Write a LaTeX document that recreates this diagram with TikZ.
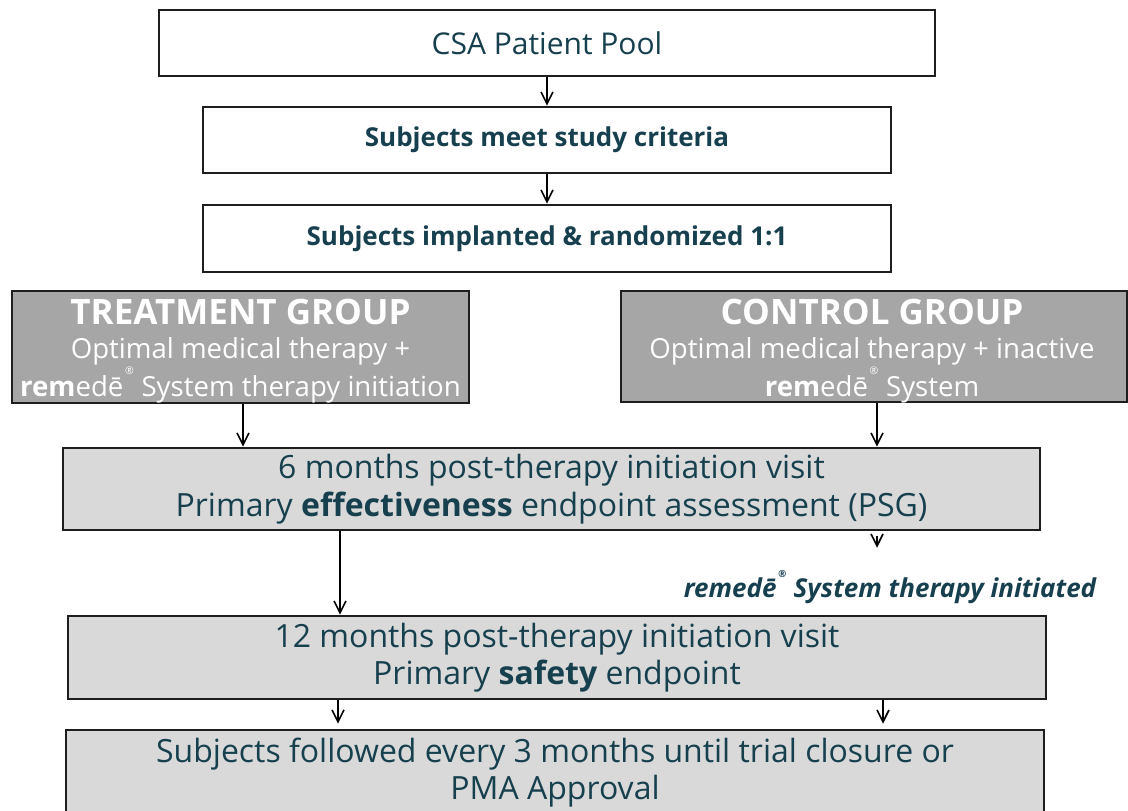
\documentclass[tikz,border=0pt]{standalone}
\usepackage{fontspec}
\setmainfont{Open Sans}
\usetikzlibrary{arrows.meta}

\definecolor{ink}{HTML}{17404E}
\definecolor{edge}{HTML}{1E1E1E}
\definecolor{groupfill}{HTML}{A6A6A6}
\definecolor{stagefill}{HTML}{D9D9D9}

% registered mark set small and high after the brand name
\newcommand\regmark{\kern0.06em\raisebox{0.78em}{\scalebox{0.38}{®}}\kern0.28em}
\newcommand\remede{\textbf{rem}edē\regmark}

\tikzset{
  box/.style={draw=edge, line width=1.3pt, inner sep=0pt, align=center, text=ink},
  plainbox/.style={box, fill=white},
  groupbox/.style={box, fill=groupfill, text=white},
  stagebox/.style={box, fill=stagefill},
  arr/.style={draw=black, line width=0.8pt, -{Straight Barb[length=6pt,width=6pt]}},
}

\begin{document}
\begin{tikzpicture}[x=0.5pt, y=-0.5pt]
\useasboundingbox (0,0) rectangle (1128,810);

% enrolment steps
\node[plainbox, minimum width=388pt, minimum height=33pt, font=\fontsize{15}{18}\selectfont]
  (pool) at (547,43) {CSA Patient Pool};
\node[plainbox, minimum width=344pt, minimum height=33pt, font=\fontsize{13}{16}\selectfont\bfseries]
  (crit) at (547,140) {Subjects meet study criteria};
\node[plainbox, minimum width=344pt, minimum height=33.5pt, font=\fontsize{13}{16}\selectfont\bfseries]
  (rand) at (547,238.5) {Subjects implanted \& randomized 1:1};

% study arms
\node[groupbox, minimum width=228.5pt, minimum height=56pt] (treat) at (240.5,347) {};
\node[text=white, inner sep=0pt, align=center, font=\fontsize{13.8}{16.8}\selectfont]
  (treattext) at (240.5,351) {{\fontsize{17.5}{20}\selectfont\bfseries TREATMENT GROUP}\\
  Optimal medical therapy +\\ \remede System therapy initiation};
\node[groupbox, minimum width=253pt, minimum height=55.5pt] (ctrl) at (874,346.5) {};
\node[text=white, inner sep=0pt, align=center, font=\fontsize{13.8}{16.8}\selectfont]
  (ctrltext) at (872,351) {{\fontsize{17.5}{20}\selectfont\bfseries CONTROL GROUP}\\
  Optimal medical therapy + inactive\\ \remede System};

% follow-up visits
\node[stagebox, minimum width=488.5pt, minimum height=41pt, font=\fontsize{16}{19}\selectfont]
  (six) at (551.5,489) {6 months post-therapy initiation visit\\
  Primary \textbf{effectiveness} endpoint assessment (PSG)};
\node[text=ink, inner sep=0pt, font=\fontsize{13}{16}\selectfont\bfseries\itshape]
  (init) at (890,587) {remedē\regmark System therapy initiated};
\node[stagebox, minimum width=489pt, minimum height=41.5pt, font=\fontsize{16}{18.5}\selectfont]
  (twelve) at (557,657.5) {12 months post-therapy initiation visit\\
  Primary \textbf{safety} endpoint};
\node[stagebox, minimum width=489pt, minimum height=42.5pt, font=\fontsize{16}{18.5}\selectfont]
  (follow) at (555,772.5) {Subjects followed every 3 months until trial closure or\\ PMA Approval};

% connectors
\draw[arr] (pool.south) -- (crit.north);
\draw[arr] (crit.south) -- (rand.north);
\draw[arr] (243,0 |- treat.south) -- (243,0 |- six.north);
\draw[arr] (877,0 |- ctrl.south) -- (877,0 |- six.north);
\draw[arr] (340,0 |- six.south) -- (340,0 |- twelve.north);
\draw[arr, shorten <=2.5pt] (877,0 |- six.south) -- ([yshift=11pt]877,0 |- init.north);
\draw[arr, shorten >=2.5pt] (338,0 |- twelve.south) -- (338,0 |- follow.north);
\draw[arr, shorten >=2.5pt] (883,0 |- twelve.south) -- (883,0 |- follow.north);
\end{tikzpicture}
\end{document}
